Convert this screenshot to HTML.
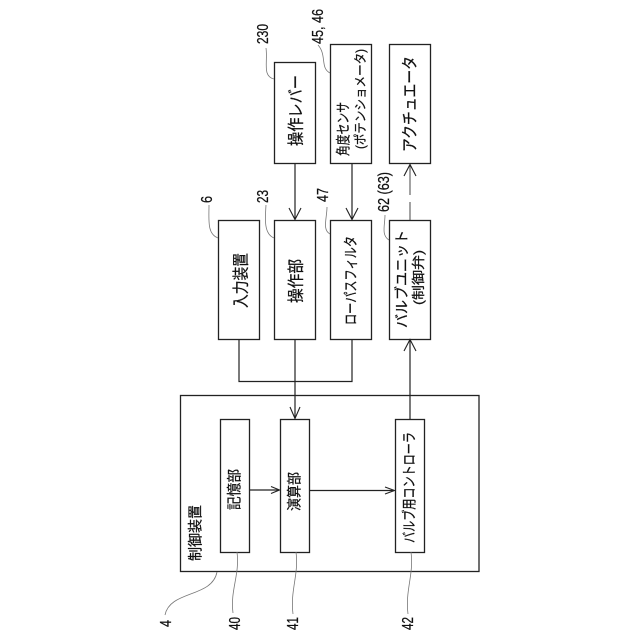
<!DOCTYPE html>
<html><head><meta charset="utf-8"><style>
html,body{margin:0;padding:0;background:#fff}
svg{display:block}
text{font-family:"Liberation Sans","Noto Sans CJK JP",sans-serif;fill:#111;stroke:#111;stroke-width:.25}
.b{fill:#fff;stroke:#222;stroke-width:1.3}
.l{fill:none;stroke:#222;stroke-width:1.2}
.a{fill:none;stroke:#222;stroke-width:1.1}
.g{fill:none;stroke:#777;stroke-width:.8}
</style></head><body>
<svg width="640" height="640" viewBox="0 0 640 640" xmlns="http://www.w3.org/2000/svg">
<rect width="640" height="640" fill="#fff"/>
<rect class="b" x="180.500" y="395.500" width="298.500" height="176"/>
<rect class="b" x="274.500" y="62.500" width="41" height="101"/>
<rect class="b" x="330.500" y="44.500" width="41" height="119"/>
<rect class="b" x="389.500" y="44.500" width="41" height="119"/>
<rect class="b" x="218.500" y="220.500" width="41" height="119"/>
<rect class="b" x="274.500" y="220.500" width="41" height="119"/>
<rect class="b" x="330.500" y="220.500" width="41" height="119"/>
<rect class="b" x="389.500" y="220.500" width="41" height="119"/>
<rect class="b" x="220.500" y="419.500" width="29" height="133"/>
<rect class="b" x="280.500" y="419.500" width="29" height="133"/>
<rect class="b" x="395.500" y="419.500" width="29" height="133"/>

<path class="l" d="M295 164V219M352 164V219M295 340V418M239 340V381.500H352V340M410 419V340M249.500 490H279M309.500 490.500H394"/>
<path d="M410 220V164" fill="none" stroke="#333" stroke-width=".9" stroke-dasharray="18 7 31 0"/>
<path class="a" d="M289 208L295 219.500L301 208M346 208L352 219.500L358 208M290 407L295 418.500L300 407M404 176L410 164.500L416 176M404 351L410 339.500L416 351M271 486.500L279.500 490L271 493.500M385 487L394.500 490.500L385 494"/>

<g class="g">
<path d="M274 79C262 76 268 62 266 48"/>
<path d="M330 73C320 68 327 55 318 45"/>
<path d="M218 238C207 234 209 220 209 205"/>
<path d="M274 238C264 234 265 220 266 205"/>
<path d="M330 234C322 230 327 218 327 207"/>
<path d="M389 240C381 235 385 225 385 215"/>
<path d="M217 572C212 598 170 590 165 615"/>
<path d="M237 552C240 575 230 590 233 613"/>
<path d="M296 552C299 575 290 590 293 614"/>
<path d="M411 552C414 575 405 590 408 614"/>
</g>

<g font-size="16.500">
<text transform="translate(301.500,146) rotate(-90)" textLength="71" lengthAdjust="spacingAndGlyphs">操作レバー</text>
<text transform="translate(415.500,152) rotate(-90)" textLength="96" lengthAdjust="spacingAndGlyphs">アクチュエータ</text>
<text transform="translate(246.500,308) rotate(-90)" textLength="55" lengthAdjust="spacingAndGlyphs">入力装置</text>
<text transform="translate(301.500,303) rotate(-90)" textLength="44" lengthAdjust="spacingAndGlyphs">操作部</text>
</g>
<g font-size="14.500">
<text transform="translate(348.500,156) rotate(-90)" textLength="54" lengthAdjust="spacingAndGlyphs">角度センサ</text>
<text transform="translate(365,149) rotate(-90)" font-size="13" textLength="100" lengthAdjust="spacingAndGlyphs">(ポテンショメータ)</text>
<text transform="translate(356,325) rotate(-90)" textLength="89" lengthAdjust="spacingAndGlyphs">ローパスフィルタ</text>
<text transform="translate(407,328) rotate(-90)" textLength="98" lengthAdjust="spacingAndGlyphs">バルブユニット</text>
<text transform="translate(423,305) rotate(-90)" font-size="13" textLength="55" lengthAdjust="spacingAndGlyphs">(制御弁)</text>
<text transform="translate(239.500,510) rotate(-90)" textLength="41" lengthAdjust="spacingAndGlyphs">記憶部</text>
<text transform="translate(299.500,511) rotate(-90)" textLength="39" lengthAdjust="spacingAndGlyphs">演算部</text>
<text transform="translate(414.500,543) rotate(-90)" textLength="111" lengthAdjust="spacingAndGlyphs">バルブ用コントローラ</text>
<text transform="translate(200.500,561) rotate(-90)" textLength="56" lengthAdjust="spacingAndGlyphs">制御装置</text>
</g>
<g font-size="15.500">
<text transform="translate(268,44) rotate(-90)" textLength="20" lengthAdjust="spacingAndGlyphs">230</text>
<text transform="translate(323,44) rotate(-90)" textLength="35" lengthAdjust="spacingAndGlyphs">45, 46</text>
<text transform="translate(212,203) rotate(-90)" textLength="7" lengthAdjust="spacingAndGlyphs">6</text>
<text transform="translate(268,203) rotate(-90)" textLength="13" lengthAdjust="spacingAndGlyphs">23</text>
<text transform="translate(328,202) rotate(-90)" textLength="14" lengthAdjust="spacingAndGlyphs">47</text>
<text transform="translate(389,212) rotate(-90)" textLength="40" lengthAdjust="spacingAndGlyphs">62 (63)</text>
<text transform="translate(171,627) rotate(-90)" textLength="7" lengthAdjust="spacingAndGlyphs">4</text>
<text transform="translate(240,630) rotate(-90)" textLength="13" lengthAdjust="spacingAndGlyphs">40</text>
<text transform="translate(298,630) rotate(-90)" textLength="13" lengthAdjust="spacingAndGlyphs">41</text>
<text transform="translate(413,630) rotate(-90)" textLength="13" lengthAdjust="spacingAndGlyphs">42</text>
</g>
</svg>
</body></html>
